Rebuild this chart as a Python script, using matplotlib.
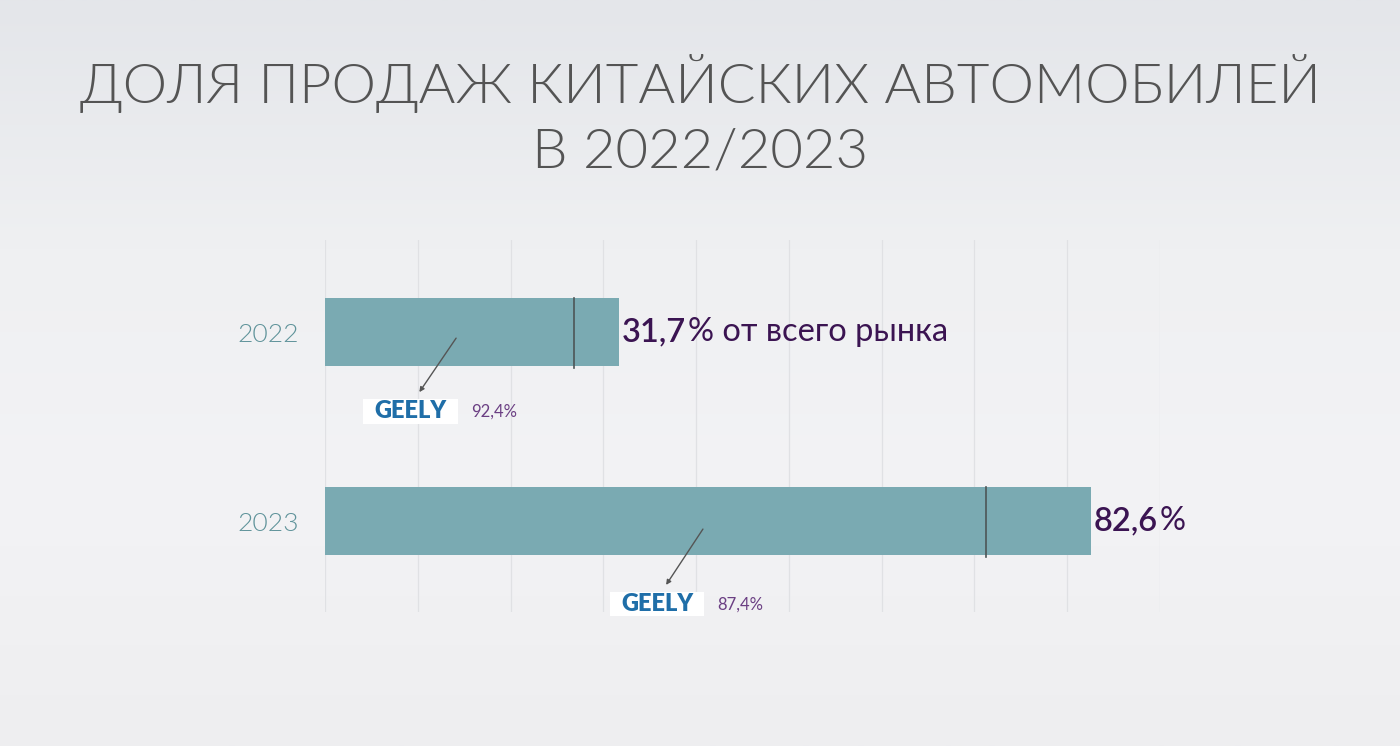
import matplotlib.pyplot as plt
import numpy as np
from matplotlib.colors import LinearSegmentedColormap
from matplotlib.patches import Rectangle

years = ['2022', '2023']
market_share = [31.7, 82.6]          # доля китайских авто, %
value_nums = ['31,7', '82,6']
value_rest = ['% от всего рынка', '%']
geely_mark = [26.8, 71.2]            # положение тёмной отметки на полосе
geely_share = ['92,4%', '87,4%']

plt.rcParams['font.family'] = ['Lato', 'DejaVu Sans']

fig = plt.figure(figsize=(14, 7.46), dpi=100)

# фон с лёгким градиентом
bg = fig.add_axes([0, 0, 1, 1], zorder=-10)
grad = np.linspace(0, 1, 256).reshape(-1, 1)
cmap = LinearSegmentedColormap.from_list('bg', ['#e4e6ea', '#eff0f2', '#f3f3f5', '#eeeef0'])
bg.imshow(grad, aspect='auto', cmap=cmap, extent=[0, 1, 0, 1])
bg.axis('off')

fig.text(0.5, 0.888, 'ДОЛЯ ПРОДАЖ КИТАЙСКИХ АВТОМОБИЛЕЙ', ha='center', va='center',
         fontsize=40.5, fontweight=300, color='#545454')
fig.text(0.5, 0.796, 'В 2022/2023', ha='center', va='center',
         fontsize=40.5, fontweight=300, color='#545454')

ax = fig.add_axes([325 / 1400, 1 - 612 / 746, 835 / 1400, 372 / 746])
ax.patch.set_alpha(0)
y = np.arange(len(years))
ax.barh(y, market_share, height=0.36, color='#7aaab2', zorder=2)
ax.set_xlim(0, 90)
ax.set_ylim(1.481, -0.487)
ax.set_xticks(np.arange(0, 91, 10))
ax.xaxis.grid(True, color='#e0e1e4', lw=0.9, zorder=0)
ax.tick_params(axis='x', length=0, labelbottom=False)
ax.tick_params(axis='y', length=0, pad=19)
ax.set_yticks(y, years)
for t in ax.get_yticklabels():
    t.set_fontsize(19)
    t.set_fontweight(300)
    t.set_color('#5f939a')
for s in ax.spines.values():
    s.set_visible(False)

for i in range(len(years)):
    ax.plot([geely_mark[i]] * 2, [i - 0.18, i + 0.19], color='#4d5556', lw=1.2, zorder=3)
    num = ax.annotate(value_nums[i], (market_share[i], i), xytext=(2, 0), textcoords='offset points',
                      ha='left', va='center', fontsize=23.5, fontweight=600, color='#3b1452')
    ax.annotate(value_rest[i], xy=(1, 0.5), xycoords=num, xytext=(1, 0),
                textcoords='offset points', ha='left', va='center',
                fontsize=23.5, color='#3b1452')

# стрелки к логотипам Geely
arrow_from = [(14.3, 0.02), (40.9, 1.03)]
arrow_to = [(10.0, 0.33), (36.6, 1.35)]
for i in range(len(years)):
    ax.annotate('', xy=arrow_to[i], xytext=arrow_from[i],
                arrowprops=dict(arrowstyle='-|>', color='#555555', lw=1, mutation_scale=7))
    lx, ly = arrow_to[i][0] - 0.8, arrow_to[i][1] + 0.09
    ax.add_patch(Rectangle((lx - 5.1, ly - 0.064), 10.2, 0.128, fc='white', ec='none',
                           zorder=3, clip_on=False))
    ax.text(lx, ly, 'GEELY', ha='center', va='center', fontsize=17, fontweight='heavy',
            color='#1f6ea8', zorder=4, clip_on=False)
    ax.text(lx + 6.5, ly, geely_share[i], ha='left', va='center', fontsize=12,
            color='#6b3f83', clip_on=False)

fig.savefig('out.png', dpi=100)
